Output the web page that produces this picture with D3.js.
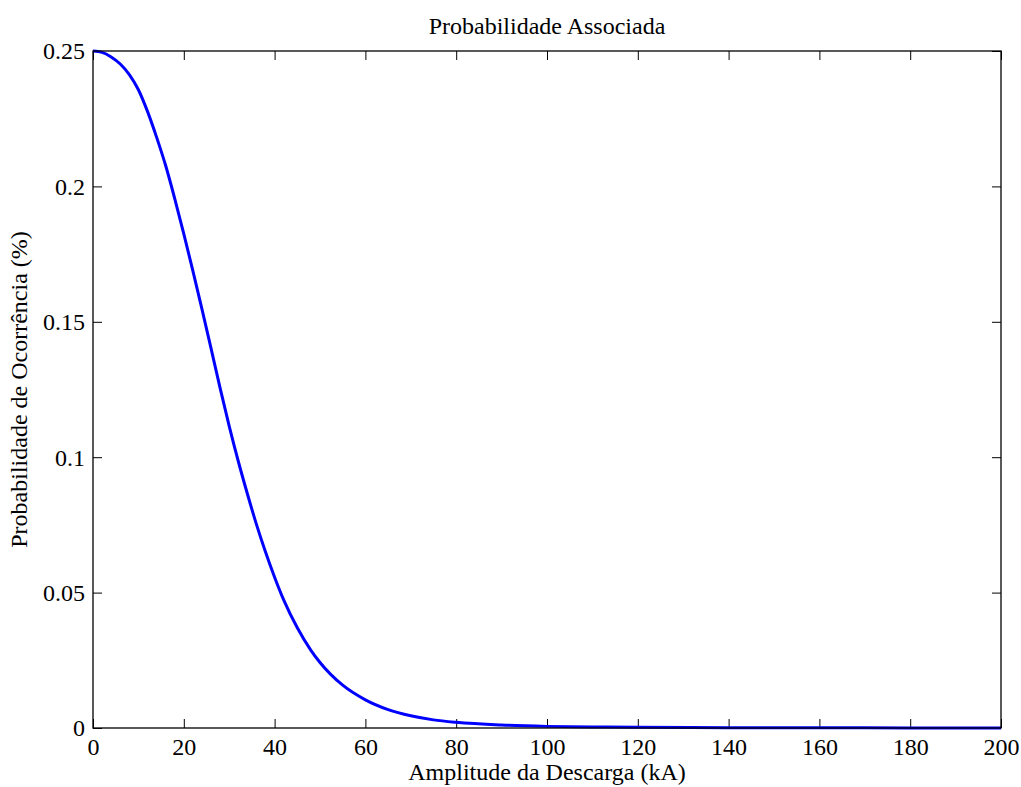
<!DOCTYPE html>
<html>
<head>
<meta charset="utf-8">
<script src="https://cdn.jsdelivr.net/npm/d3@7"></script>
<style>
  html, body { margin: 0; padding: 0; background: #fff; }
  svg { display: block; font-family: "Liberation Serif", "Times New Roman", serif; }
</style>
</head>
<body>
<svg id="chart" width="1021" height="787"></svg>
<script>
// Data
const amplitudeKA = [0, 2, 4, 6, 8, 10, 12, 14, 16, 18, 20, 22, 24, 26, 28, 30, 32, 34, 36, 38, 40, 42, 45, 48, 50, 55, 60, 65, 70, 75, 80, 90, 100, 110, 120, 140, 160, 180, 200];
const probability = [0.2500, 0.2495, 0.2478, 0.2452, 0.2413, 0.2357, 0.2277, 0.2182, 0.2077, 0.1955, 0.1825, 0.1688, 0.1547, 0.1402, 0.1255, 0.1115, 0.0985, 0.0865, 0.0752, 0.0650, 0.0557, 0.0473, 0.0370, 0.0287, 0.0242, 0.0158, 0.0104, 0.0068, 0.0045, 0.0030, 0.0021, 0.0011, 0.0006, 0.00038, 0.00025, 0.00012, 0.00007, 0.00004, 0.00003];
const xTicks = [0, 20, 40, 60, 80, 100, 120, 140, 160, 180, 200];
const yTicks = [0, 0.05, 0.1, 0.15, 0.2, 0.25];
const titleText = "Probabilidade Associada";
const xLabel = "Amplitude da Descarga (kA)";
const yLabel = "Probabilidade de Ocorrência (%)";

const svg = d3.select("#chart");
const L = 93, R = 1001, T = 51, B = 728;
const fs = 24;

const x = d3.scaleLinear().domain([0, 200]).range([L, R]);
const y = d3.scaleLinear().domain([0, 0.25]).range([B, T]);

const tickLen = 9;
const fmtY = d => d === 0 ? "0" : String(+d.toFixed(2));

// Bottom axis (ticks inward)
const gB = svg.append("g").attr("transform", `translate(0,${B})`)
  .call(d3.axisBottom(x).tickValues(xTicks).tickSizeInner(-tickLen).tickSizeOuter(0).tickFormat(d3.format("d")));
// Top axis mirror
const gT = svg.append("g").attr("transform", `translate(0,${T})`)
  .call(d3.axisTop(x).tickValues(xTicks).tickSizeInner(-tickLen).tickSizeOuter(0).tickFormat(""));
// Left axis
const gL = svg.append("g").attr("transform", `translate(${L},0)`)
  .call(d3.axisLeft(y).tickValues(yTicks).tickSizeInner(-tickLen).tickSizeOuter(0).tickPadding(8).tickFormat(fmtY));
// Right axis mirror
const gR = svg.append("g").attr("transform", `translate(${R},0)`)
  .call(d3.axisRight(y).tickValues(yTicks).tickSizeInner(-tickLen).tickSizeOuter(0).tickFormat(""));

[gB, gT, gL, gR].forEach(g => {
  g.select(".domain").remove();
  g.selectAll(".tick line").attr("stroke", "#000").attr("stroke-width", 1);
  g.selectAll("text").attr("fill", "#000").style("font-size", fs + "px").style("font-family", '"Liberation Serif", serif');
});
gB.selectAll("text").attr("y", 27).attr("dy", "0");
gL.selectAll("text").attr("dy", "0.33em");

// Curve
const line = d3.line().x((d, i) => x(amplitudeKA[i])).y(d => y(d)).curve(d3.curveMonotoneX);
svg.append("path").datum(probability)
  .attr("d", line).attr("fill", "none").attr("stroke", "#0000ff").attr("stroke-width", 3)
  .attr("stroke-linejoin", "round");

// Frame
svg.append("rect").attr("x", L).attr("y", T).attr("width", R - L).attr("height", B - T)
  .attr("fill", "none").attr("stroke", "#000").attr("stroke-width", 1.3);

// Title and labels
svg.append("text").attr("x", (L + R) / 2).attr("y", 34).attr("text-anchor", "middle")
  .style("font-size", fs + "px").attr("fill", "#000").text(titleText);
svg.append("text").attr("x", (L + R) / 2).attr("y", 780).attr("text-anchor", "middle")
  .style("font-size", fs + "px").attr("fill", "#000").text(xLabel);
svg.append("text").attr("transform", `translate(27,${(T + B) / 2}) rotate(-90)`).attr("text-anchor", "middle")
  .style("font-size", fs + "px").attr("fill", "#000").text(yLabel);
</script>
</body>
</html>
